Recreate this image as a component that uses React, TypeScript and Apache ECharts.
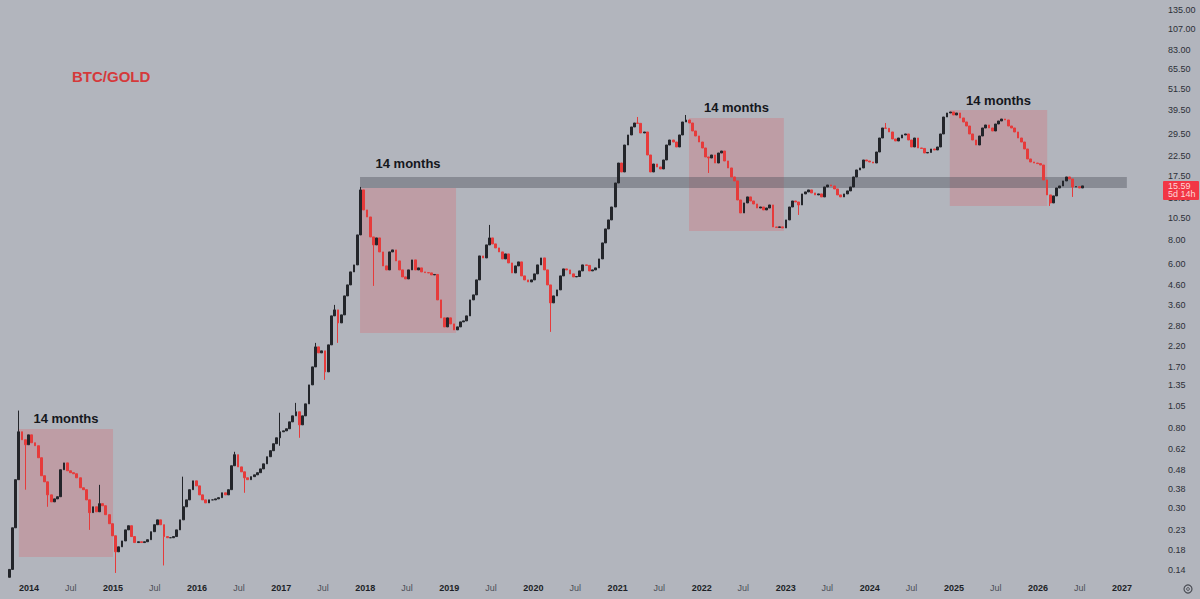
import React, { useEffect, useRef } from "react";
import * as echarts from "echarts";

// BTC priced in ounces of gold, two-week candles starting 2013-10-07
const FIRST_DATE = "2013-10-07";
const STEP_DAYS = 14;
const FIRST_OPEN = 0.128;

const closes = [
  0.141, 0.235, 0.424, 0.763, 0.692, 0.651, 0.735, 0.667, 0.643, 0.555,
  0.445, 0.413, 0.352, 0.323, 0.335, 0.344, 0.479, 0.521, 0.473, 0.462,
  0.456, 0.434, 0.384, 0.375, 0.331, 0.283, 0.304, 0.286, 0.316, 0.308,
  0.276, 0.247, 0.213, 0.175, 0.186, 0.2, 0.229, 0.241, 0.211, 0.196,
  0.198, 0.196, 0.198, 0.203, 0.224, 0.244, 0.259, 0.244, 0.211, 0.208,
  0.208, 0.211, 0.229, 0.259, 0.304, 0.331, 0.375, 0.418, 0.393, 0.352,
  0.331, 0.319, 0.331, 0.331, 0.335, 0.34, 0.361, 0.352, 0.375, 0.503,
  0.576, 0.496, 0.467, 0.434, 0.424, 0.44, 0.45, 0.462, 0.484, 0.515,
  0.562, 0.605, 0.659, 0.709, 0.763, 0.772, 0.792, 0.862, 0.928, 0.975,
  0.831, 0.928, 1.075, 1.357, 1.692, 2.163, 2.01, 2.06, 1.592, 2.217,
  3.164, 3.406, 2.903, 3.203, 4.043, 4.627, 5.427, 5.914, 8.543, 14.84,
  11.61, 10.65, 8.336, 7.558, 8.235, 6.935, 5.842, 5.562, 6.935, 7.108,
  6.211, 5.562, 5.104, 4.98, 5.562, 6.288, 5.562, 5.7, 5.427, 5.38,
  5.361, 5.231, 5.26, 3.85, 3.088, 2.764, 3.088, 2.868, 2.665, 2.764,
  2.939, 2.975, 3.164, 3.85, 4.093, 4.92, 6.603, 6.443, 7.558, 8.235,
  7.651, 7.285, 6.935, 6.365, 6.768, 6.06, 5.361, 5.842, 6.135, 5.167,
  4.92, 4.8, 4.92, 5.296, 5.914, 6.443, 5.562, 4.627, 3.711, 4.043,
  4.352, 5.167, 5.63, 5.562, 5.296, 5.104, 5.13, 5.494, 5.914, 5.88,
  5.494, 5.562, 5.7, 6.365, 7.745, 9.196, 10.27, 12.04, 16.16, 20.65,
  18.5, 25.76, 29.13, 32.13, 33.74, 33.6, 29.85, 30.22, 22.79, 18.5,
  20.4, 19.67, 19.19, 21.43, 25.76, 27.39, 26.72, 25.14, 29.13, 34.16,
  35.01, 33.74, 30.59, 28.77, 26.72, 24.83, 22.24, 21.96, 22.79, 20.65,
  23.35, 23.93, 21.17, 19.43, 17.4, 16.57, 13.12, 11.19, 12.65, 13.62,
  12.96, 12.49, 11.89, 12.04, 11.61, 11.89, 12.34, 9.42, 9.37, 9.43,
  9.31, 10.27, 12.04, 12.96, 12.8, 12.34, 14.13, 14.48, 14.84, 14.3,
  13.96, 14.13, 13.62, 15.39, 15.77, 15.58, 15.02, 13.96, 13.62, 14.13,
  14.66, 15.39, 17.4, 18.96, 19.43, 21.43, 21.17, 20.91, 20.65, 23.64,
  28.07, 31.74, 31.6, 30.22, 27.73, 27.06, 28.07, 29.13, 29.49, 27.39,
  25.14, 28.07, 24.83, 24.7, 23.35, 23.5, 24.53, 24.23, 25.14, 29.49,
  36.32, 38.15, 38.62, 37.22, 38.15, 35.88, 34.16, 32.52, 29.49, 27.39,
  25.76, 28.77, 31.74, 32.93, 31.74, 30.59, 33.33, 34.58, 35.44, 35.01,
  32.52, 31.74, 30.22, 28.07, 26.72, 24.53, 21.7, 20.91, 20.65, 20.5,
  20.15, 16.77, 13.96, 12.65, 13.79, 15.2, 15.58, 16.57, 17.4, 16.98,
  15.39, 15.45, 15.2, 15.59,
];

// Long wicks, keyed by candle index
const wickHighs: Record<number, number> = {
  3: 0.99, 28: 0.398, 54: 0.44, 70: 0.597, 84: 0.964, 89: 1.088, 95: 2.272,
  101: 3.621, 109: 15.39, 149: 9.66, 195: 36.32, 210: 37.22, 272: 33.74,
};
const wickLows: Record<number, number> = {
  5: 0.375, 12: 0.304, 25: 0.229, 33: 0.135, 48: 0.148, 73: 0.361, 84: 0.643,
  90: 0.709, 98: 1.443, 102: 2.272, 113: 4.571, 168: 2.6, 217: 18.27,
  245: 10.92, 323: 12.19, 330: 13.62,
};

const priceTicks = [
  135, 107, 83, 65.5, 51.5, 39.5, 29.5, 22.5, 17.5, 13.5, 10.5, 8, 6, 4.6,
  3.6, 2.8, 2.2, 1.7, 1.35, 1.05, 0.8, 0.62, 0.48, 0.38, 0.3, 0.23, 0.18, 0.14,
];
const tickYears = [
  2014, 2015, 2016, 2017, 2018, 2019, 2020, 2021, 2022, 2023, 2024, 2025, 2026, 2027,
];

// Bear-market windows after each cycle top
const cycleBoxes = [
  { label: "14 months", from: "2013-11-18", to: "2015-01-01", low: 0.164, high: 0.79, gap: 4 },
  { label: "14 months", from: "2017-12-09", to: "2019-01-30", low: 2.565, high: 15.2, gap: 18 },
  { label: "14 months", from: "2021-11-07", to: "2022-12-24", low: 8.96, high: 35.9, gap: 4 },
  { label: "14 months", from: "2024-12-14", to: "2026-02-10", low: 12.2, high: 39.6, gap: 3 },
];
// Horizontal resistance zone from the 2017 top
const resistanceZone = { from: "2017-12-09", to: "2027-01-22", low: 15.2, high: 17.4 };

const X_MIN = "2013-08-28";
const X_MAX = "2027-06-15";
const Y_MIN = 0.1269;
const Y_MAX = 152.6;

const BG = "#b2b5bd";
const UP = "#23252a";
const DOWN = "#e63b3b";
const BOX_FILL = "rgba(232,72,84,0.22)";
const ZONE_FILL = "rgba(78,80,90,0.42)";
const FONT = "'Liberation Sans', Arial, sans-serif";

const DAY = 86400000;

function buildCandles() {
  const t0 = Date.parse(FIRST_DATE);
  return closes.map((c, i) => {
    const o = i === 0 ? FIRST_OPEN : closes[i - 1];
    const lo = Math.min(o, c, wickLows[i] ?? Infinity);
    const hi = Math.max(o, c, wickHighs[i] ?? -Infinity);
    return [t0 + i * STEP_DAYS * DAY, o, c, lo, hi];
  });
}

function buildOption(): echarts.EChartsOption {
  // Time runs on a numeric (ms) axis; labels sit on Jan 1 and Jul 1
  const timeTicks = tickYears.flatMap((y) => [Date.UTC(y, 0, 1), Date.UTC(y, 6, 1)]);

  const areas: any[] = cycleBoxes.map((b) => [
    {
      name: b.label,
      coord: [Date.parse(b.from), b.high],
      itemStyle: { color: BOX_FILL },
      label: { distance: b.gap },
    },
    { coord: [Date.parse(b.to), b.low] },
  ]);
  areas.push([
    {
      name: "",
      coord: [Date.parse(resistanceZone.from), resistanceZone.high],
      itemStyle: { color: ZONE_FILL },
      label: { show: false },
    },
    { coord: [Date.parse(resistanceZone.to), resistanceZone.low] },
  ]);

  return {
    animation: false,
    backgroundColor: BG,
    title: {
      text: "BTC/GOLD",
      left: 72,
      top: 69,
      padding: 0,
      textStyle: { color: "#d5393b", fontSize: 15, fontWeight: "bold", fontFamily: FONT },
    },
    grid: { left: 0, right: 40, top: 0, bottom: 21, containLabel: false, outerBoundsMode: "none" } as any,
    xAxis: {
      type: "value",
      min: Date.parse(X_MIN),
      max: Date.parse(X_MAX),
      axisLine: { show: false },
      axisTick: { show: false },
      splitLine: { show: false },
      axisLabel: {
        customValues: timeTicks,
        margin: 5,
        hideOverlap: false,
        showMinLabel: true,
        showMaxLabel: true,
        formatter: (v: number) => {
          const d = new Date(v);
          return d.getUTCMonth() === 0 ? `{y|${d.getUTCFullYear()}}` : "{m|Jul}";
        },
        rich: {
          y: { fontSize: 9, fontWeight: "bold", color: "#1c1f26", fontFamily: FONT },
          m: { fontSize: 9, color: "#4b4e57", fontFamily: FONT },
        },
      } as any,
    },
    yAxis: {
      type: "log",
      logBase: 10,
      position: "right",
      min: Y_MIN,
      max: Y_MAX,
      axisLine: { show: false },
      axisTick: { show: false },
      splitLine: { show: false },
      axisLabel: {
        customValues: priceTicks,
        margin: 8,
        showMinLabel: true,
        showMaxLabel: true,
        color: "#2c2f37",
        fontSize: 9,
        fontFamily: FONT,
        formatter: (v: number) => Number(v).toFixed(2),
      } as any,
    },
    series: [
      {
        type: "candlestick",
        data: buildCandles(),
        encode: { x: 0, y: [1, 2, 3, 4] },
        barWidth: 2.3,
        itemStyle: {
          color: UP,
          color0: DOWN,
          borderColor: UP,
          borderColor0: DOWN,
          borderWidth: 1,
        },
        markArea: {
          silent: true,
          label: {
            show: true,
            position: "top",
            color: "#15171c",
            fontSize: 13,
            fontWeight: "bold",
            fontFamily: FONT,
          },
          data: areas,
        },
      } as any,
    ],
  };
}

export default function App() {
  const ref = useRef<HTMLDivElement>(null);

  useEffect(() => {
    const el = ref.current;
    if (!el) return;
    const chart = echarts.init(el, null, { renderer: "svg" });
    chart.setOption(buildOption());

    // Last-price tag on the price scale
    const last = closes[closes.length - 1];
    const py = chart.convertToPixel({ yAxisIndex: 0 }, last) as number;
    chart.setOption({
      graphic: [
        {
          type: "rect",
          shape: { x: 1163, y: py - 5, width: 36, height: 19, r: 1 },
          style: { fill: "#f23645" },
          z: 100,
        },
        {
          type: "text",
          x: 1168,
          y: py,
          style: {
            text: last.toFixed(2),
            fill: "#ffd6d6",
            fontSize: 9,
            fontFamily: FONT,
            verticalAlign: "middle",
          },
          z: 101,
        },
        {
          type: "text",
          x: 1168,
          y: py + 8.5,
          style: {
            text: "5d 14h",
            fill: "#ffd6d6",
            fontSize: 9,
            fontFamily: FONT,
            verticalAlign: "middle",
          },
          z: 101,
        },
        {
          type: "circle",
          shape: { cx: 1188, cy: 589, r: 4 },
          style: { fill: "none", stroke: "#4a4d55", lineWidth: 1.2 },
        },
        {
          type: "circle",
          shape: { cx: 1188, cy: 589, r: 1.4 },
          style: { fill: "none", stroke: "#4a4d55", lineWidth: 1 },
        },
      ],
    });

    return () => chart.dispose();
  }, []);

  return (
    <div
      ref={ref}
      style={{ position: "fixed", left: 0, top: 0, width: 1200, height: 599, background: BG }}
    />
  );
}
